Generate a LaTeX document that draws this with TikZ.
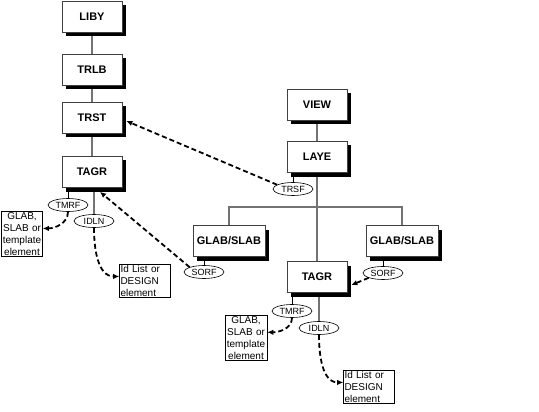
\documentclass[tikz,border=0pt]{standalone}
\usepackage{fontspec}
\setmainfont{Liberation Sans}
\usetikzlibrary{shapes.geometric,shadows,arrows.meta,backgrounds}
\begin{document}
\begin{tikzpicture}[x=1pt,y=-1pt,
	rec/.style={draw=black!75,line width=.7pt,fill=white,minimum width=60pt,minimum height=31pt,inner sep=0pt,
		font=\fontsize{11}{13}\selectfont\bfseries,general shadow={fill=black,shadow xshift=4pt,shadow yshift=-4pt}},
	tag/.style={ellipse,draw=black,line width=.6pt,fill=white,minimum width=40pt,minimum height=13pt,inner sep=0pt,font=\fontsize{9}{10}\selectfont},
	note/.style={draw=black,line width=.6pt,fill=white,inner sep=1pt,font=\fontsize{10}{12}\selectfont},
	link/.style={draw=black!55,line width=1.3pt},
	hang/.style={draw=black,line width=.6pt},
	ref/.style={line width=1.8pt,dash pattern=on 5pt off 3pt,-{Latex[length=6pt,width=5.5pt]}}]
		\useasboundingbox (0,0) rectangle (539,412);
		
		\node[rec] (liby) at (92,17) {LIBY};
		\node[rec] (trlb) at (92,70) {TRLB};
		\node[rec] (trst) at (92,118) {TRST};
		\node[rec] (tagrA) at (92,172) {TAGR};
		\node[rec] (view) at (317,105) {VIEW};
		\node[rec] (laye) at (317,157) {LAYE};
		\node[rec,minimum width=72pt] (glabA) at (229,241) {GLAB/SLAB};
		\node[rec,minimum width=72pt] (glabB) at (402,241) {GLAB/SLAB};
		\node[rec] (tagrB) at (317,277) {TAGR};
		\coordinate (bar) at (317,207);
		
		\node[tag] (trsf) at (293,189) {TRSF};
		\node[tag] (tmrfA) at (68,205) {TMRF};
		\node[tag] (idlnA) at (94,221) {IDLN};
		\node[tag] (sorfA) at (204,272) {SORF};
		\node[tag] (sorfB) at (383,273) {SORF};
		\node[tag] (tmrfB) at (292,311) {TMRF};
		\node[tag] (idlnB) at (319,328) {IDLN};
		
		\node[note,text width=39pt,align=center] (elA) at (22,234) {GLAB,\\SLAB or\\template\\element};
		\node[note,text width=49pt,align=left] (idA) at (145,281) {Id List or\\DESIGN\\element};
		\node[note,text width=40pt,align=center] (elB) at (246,338) {GLAB,\\SLAB or\\template\\element};
		\node[note,text width=49pt,align=left] (idB) at (369,387) {Id List or\\DESIGN\\element};
		
		\begin{scope}[on background layer]
		\draw[link] (liby) -- (trlb) -- (trst) -- (tagrA);
		\draw[link] (view) -- (laye) -- (tagrB);
		\draw[link] (glabA.north) |- (bar) -| (glabB.north);
		\draw[link] (idlnA.north) -- (idlnA.north |- tagrA.south);
		\draw[link] (idlnB.north) -- (idlnB.north |- tagrB.south);
		\draw[hang] (trsf.north) -- (trsf.north |- laye.south);
		\draw[hang] (tmrfA.north) -- (tmrfA.north |- tagrA.south);
		\draw[hang] (tmrfB.north) -- (tmrfB.north |- tagrB.south);
		\draw[hang] (sorfA.north) -- (sorfA.north |- glabA.south);
		\draw[hang] (sorfB.north) -- (sorfB.north |- glabB.south);
		\end{scope}
		
		\draw[ref] (trsf.165) -- ([xshift=4pt,yshift=-3pt]trst.east);
		\draw[ref] (sorfA.north west) -- ([xshift=8pt,yshift=-4pt]tagrA.south);
		\draw[ref] (sorfB.south west) -- ([xshift=4pt]tagrB.-15);
		\draw[ref] (tmrfA.south) to[out=-90,in=0] (elA.15);
		\draw[ref] (idlnA.south) to[out=-90,in=180] (idA.170);
		\draw[ref] (tmrfB.south) to[out=-90,in=0] (elB.15);
		\draw[ref] (idlnB.south) to[out=-90,in=180] (idB.170);
\end{tikzpicture}
\end{document}
